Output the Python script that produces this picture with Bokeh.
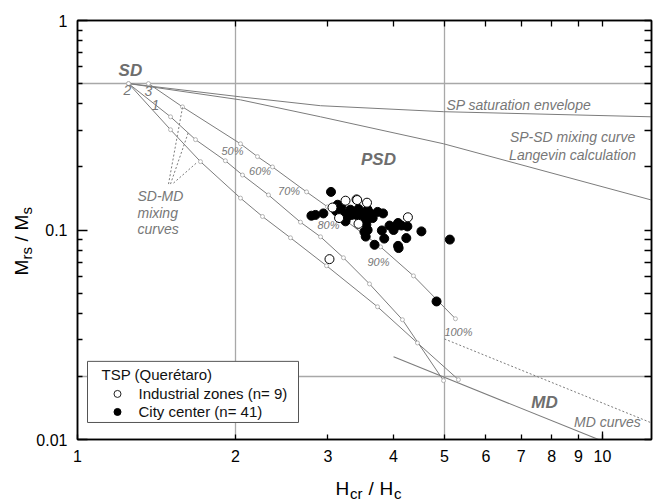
from math import log10, pi

from bokeh.core.properties import value
from bokeh.embed import file_html
from bokeh.layouts import column, row
from bokeh.models import (BoxAnnotation, CustomJSTickFormatter, FixedTicker,
                          Label, LogAxis, Range1d)
from bokeh.plotting import figure
from bokeh.resources import INLINE

# ---------------------------------------------------------------------------
# Day plot of TSP samples (Querétaro): Mrs/Ms versus Hcr/Hc
# ---------------------------------------------------------------------------

# City center samples (n = 41)
city_hcr_hc = [3.04, 2.79, 2.84, 2.94, 3.13, 3.11, 3.22, 3.24, 3.31, 3.33,
               3.40, 3.50, 3.57, 3.61, 3.57, 3.55, 3.57, 3.54, 3.68, 3.82,
               3.80, 3.84, 3.93, 4.03, 4.08, 4.08, 4.09, 4.25, 4.23, 4.52,
               5.12, 4.83, 3.43, 3.46, 3.27, 3.18, 3.52, 4.00, 3.65, 3.73, 4.14]
city_mrs_ms = [0.152, 0.117, 0.118, 0.120, 0.132, 0.123, 0.120, 0.110, 0.125, 0.118,
               0.118, 0.120, 0.125, 0.120, 0.113, 0.106, 0.100, 0.093, 0.085, 0.120,
               0.0995, 0.091, 0.105, 0.104, 0.108, 0.084, 0.082, 0.104, 0.0915, 0.0985,
               0.090, 0.0456, 0.126, 0.113, 0.116, 0.129, 0.098, 0.100, 0.114, 0.122, 0.105]

# Industrial zone samples (n = 9)
ind_hcr_hc = [3.06, 3.24, 3.40, 3.56, 3.15, 3.43, 4.26, 3.02, 3.41]
ind_mrs_ms = [0.128, 0.138, 0.140, 0.135, 0.114, 0.107, 0.115, 0.0726, 0.139]

# SD-MD mixing curves 1, 2 and 3 (Dunlop, 2002)
mix1_x = [1.251, 1.504, 1.678, 1.913, 2.062, 2.311, 2.659, 2.904, 3.211, 3.599, 4.159, 4.980]
mix1_y = [0.500, 0.347, 0.270, 0.214, 0.183, 0.147, 0.109, 0.0928, 0.0737, 0.0553, 0.0373, 0.0191]
mix2_x = [1.251, 1.504, 1.715, 2.044, 2.251, 2.545, 2.981, 3.728, 4.442, 5.317]
mix2_y = [0.500, 0.301, 0.212, 0.142, 0.116, 0.0918, 0.0675, 0.0430, 0.0289, 0.0193]
mix3_x = [1.365, 1.585, 2.044, 2.202, 2.352, 2.731, 2.994, 3.778, 4.365, 5.248]
mix3_y = [0.500, 0.387, 0.258, 0.224, 0.200, 0.152, 0.129, 0.0831, 0.0604, 0.0377]

# MD fraction labels along curve 3
mix_pct_text = ["50%", "60%", "70%", "80%", "90%", "100%"]
mix_pct_x = [1.973, 2.227, 2.529, 3.007, 3.744, 5.317]
mix_pct_y = [0.2388, 0.1917, 0.1530, 0.1059, 0.0705, 0.0325]

# SP saturation envelope and SP-SD (Langevin) mixing curve
sp_env_x = [1.251, 2.044, 2.904, 4.980, 12.4]
sp_env_y = [0.500, 0.432, 0.392, 0.367, 0.347]
sp_sd_x = [1.251, 2.044, 2.904, 4.980, 12.4]
sp_sd_y = [0.500, 0.418, 0.347, 0.258, 0.139]

# MD curves
md_x = [4.0, 9.83]
md_y = [0.0248, 0.010]
md_dot_x = [5.0, 12.4]
md_dot_y = [0.0302, 0.0120]

# Domain-state boundaries
bound_hcr_hc = [2, 5]
bound_mrs_ms = [0.02, 0.5]

# Axis ticks
x_ticks = [1, 2, 3, 4, 5, 6, 7, 8, 9, 10]
y_ticks = [0.01, 0.1, 1]
y_minor = [0.02, 0.03, 0.04, 0.05, 0.06, 0.07, 0.08, 0.09,
           0.2, 0.3, 0.4, 0.5, 0.6, 0.7, 0.8, 0.9]

X_LO, X_HI, Y_LO, Y_HI = 1, 12.4, 0.01, 1

FONT = "Liberation Sans"
GRID = "#a8a8a8"
CURVE = "#7c7c7c"
NOTE = "#777777"

# page geometry (pixels): strip for the y title, main plot, strip for the x title
PAGE_W, PAGE_H = 653, 503
YT_W = 33
XT_H = 31
FL, FR, FT, FB = 77, 651, 20.7, 439
TOP_BORDER = 20


def sx(px):
    """page x pixel -> Hcr/Hc"""
    return 10 ** (log10(X_LO) + (px - FL) / (FR - FL) * (log10(X_HI) - log10(X_LO)))


def sy(py):
    """page y pixel -> Mrs/Ms"""
    return 10 ** (log10(Y_HI) - (py - FT) / (FB - FT) * (log10(Y_HI) - log10(Y_LO)))


p = figure(width=PAGE_W - YT_W, height=PAGE_H - XT_H,
           x_axis_type="log", y_axis_type="log",
           x_range=Range1d(X_LO, X_HI), y_range=Range1d(Y_LO, Y_HI),
           output_backend="svg", toolbar_location=None,
           min_border_left=FL - YT_W, min_border_right=PAGE_W - FR,
           min_border_top=TOP_BORDER, min_border_bottom=PAGE_H - XT_H - FB,
           outline_line_color="black", outline_line_width=1.5,
           background_fill_color="white", border_fill_color="white")

label_fmt = CustomJSTickFormatter(code="return String(tick);")


def style_axis(ax, tick_in, minor_in):
    ax.axis_line_color = "black"
    ax.axis_line_width = 1.5
    ax.major_tick_in = tick_in
    ax.major_tick_out = 0
    ax.minor_tick_in = minor_in
    ax.minor_tick_out = 0
    ax.major_tick_line_color = "black"
    ax.minor_tick_line_color = "black"
    ax.major_tick_line_width = 1.3
    ax.minor_tick_line_width = 1.3
    ax.major_label_text_font = FONT
    ax.major_label_text_font_size = "16px"
    ax.major_label_text_color = "black"
    ax.major_label_standoff = 10


style_axis(p.xaxis[0], 5, 8)
p.xaxis.ticker = FixedTicker(ticks=x_ticks, minor_ticks=[10])
p.xaxis.formatter = label_fmt

style_axis(p.yaxis[0], 10, 5)
p.yaxis.ticker = FixedTicker(ticks=y_ticks, minor_ticks=y_minor)
p.yaxis.formatter = label_fmt

# mirrored tick marks on the top and right edges (no labels)
top_axis = LogAxis(ticker=FixedTicker(ticks=[], minor_ticks=x_ticks[1:]))
style_axis(top_axis, 0, 6)
top_axis.major_label_standoff = 0
p.add_layout(top_axis, "above")

right_axis = LogAxis(ticker=FixedTicker(ticks=[], minor_ticks=y_ticks + y_minor))
style_axis(right_axis, 0, 7)
right_axis.major_label_standoff = 0
p.add_layout(right_axis, "right")

# domain boundaries as grid lines
p.xgrid.ticker = FixedTicker(ticks=bound_hcr_hc)
p.ygrid.ticker = FixedTicker(ticks=bound_mrs_ms)
for g in (p.xgrid[0], p.ygrid[0]):
    g.grid_line_color = GRID
    g.grid_line_width = 1.3
    g.minor_grid_line_color = None

# SP envelope / Langevin mixing curve
p.line(sp_env_x, sp_env_y, line_color=CURVE, line_width=1)
p.line(sp_sd_x, sp_sd_y, line_color=CURVE, line_width=1)

# MD curves
p.line(md_x, md_y, line_color=CURVE, line_width=1.1)
p.line(md_dot_x, md_dot_y, line_color=CURVE, line_width=1, line_dash="2 2")

# SD-MD mixing curves with their node markers
for mx, my in ((mix1_x, mix1_y), (mix2_x, mix2_y), (mix3_x, mix3_y)):
    p.line(mx, my, line_color=CURVE, line_width=1)
    p.scatter(mx, my, marker="circle", size=4, fill_color="white",
              line_color="#a4a4a4", line_width=0.8)

# leader lines from the "SD-MD mixing curves" note
lead_x0 = [sx(168), sx(170), sx(173)]
lead_y0 = [sy(184), sy(184), sy(183)]
lead_x1 = [sx(182), sx(188), sx(197)]
lead_y1 = [sy(107.5), sy(132), sy(162)]
p.segment(lead_x0, lead_y0, lead_x1, lead_y1, line_color=CURVE, line_width=1,
          line_dash="2 2")

# samples
p.scatter(city_hcr_hc, city_mrs_ms, marker="circle", size=9,
          fill_color="black", line_color="black")
p.scatter(ind_hcr_hc, ind_mrs_ms, marker="circle", size=9,
          fill_color="white", line_color="black", line_width=1)


def note(x, y, text, size, style="italic", color=NOTE, align="left",
         baseline="middle", angle=0.0):
    p.add_layout(Label(x=x, y=y, text=text, text_font=FONT,
                       text_font_size=f"{size}px", text_font_style=style,
                       text_color=color, text_align=align,
                       text_baseline=baseline, angle=angle))


# domain names
note(1.261, 0.5753, "SD", 17, "bold italic", "#6e6e6e", "center")
note(3.744, 0.2163, "PSD", 17, "bold italic", "#6e6e6e", "center")
note(7.755, 0.01497, "MD", 17, "bold italic", "#6e6e6e", "center")

# curve annotations
note(5.045, 0.3937, "SP saturation envelope", 14)
note(8.77, 0.2770, "SP-SD mixing curve", 14, align="center")
note(8.77, 0.2273, "Langevin calculation", 14, align="center")
note(10.22, 0.01208, "MD curves", 14, align="center")
note(1.301, 0.1448, "SD-MD", 14)
note(1.301, 0.1202, "mixing", 14)
note(1.301, 0.1013, "curves", 14)
note(1.245, 0.4670, "2", 14, align="center")
note(1.365, 0.4619, "3", 14, align="center")
note(1.408, 0.3959, "1", 14, align="center")
for t, x, y in zip(mix_pct_text, mix_pct_x, mix_pct_y):
    note(x, y, t, 11, align="center")

# legend
p.add_layout(BoxAnnotation(left=sx(87), right=sx(298), top=sy(361), bottom=sy(422),
                           fill_color="white", fill_alpha=1.0,
                           line_color="#555555", line_width=1, line_alpha=1.0))
note(sx(101), sy(374.5), "TSP (Querétaro)", 15, "normal", "#111111")
note(sx(138), sy(393.5), "Industrial zones (n= 9)", 15, "normal", "#111111")
note(sx(138), sy(411.5), "City center (n= 41)", 15, "normal", "#111111")
leg_open = p.scatter([sx(117)], [sy(393.5)], marker="circle", size=7,
                     fill_color="white", line_color="#222222", line_width=1)
leg_fill = p.scatter([sx(117)], [sy(411.5)], marker="circle", size=7,
                     fill_color="black", line_color="black")
leg_open.level = "overlay"
leg_fill.level = "overlay"


def title_strip(w, h, border_left, border_right, border_top, border_bottom,
                x_range, y_range):
    """blank strip for an axis title; its data coordinates are page pixels"""
    f = figure(width=w, height=h, x_range=x_range, y_range=y_range,
               x_axis_location=None, y_axis_location=None,
               output_backend="svg", toolbar_location=None,
               min_border_left=border_left, min_border_right=border_right,
               min_border_top=border_top, min_border_bottom=border_bottom,
               outline_line_color=None,
               background_fill_color="white", border_fill_color="white")
    f.grid.visible = False
    return f


# x-axis title: H_cr / H_c   (frame spans the same page columns as the plot frame;
# y measured upward from the page bottom; anchors are text centre lines)
xt = title_strip(PAGE_W - YT_W, XT_H, FL - YT_W, PAGE_W - FR, 0, 0,
                 Range1d(FL, FR), Range1d(0, XT_H))
xt.text(x=[335, 368, 379], y=[PAGE_H - 487.5] * 3, text=["H", "/", "H"],
        text_font_size="19px", text_baseline="middle", text_color="black",
        text_font=value(FONT))
xt.text(x=[349.5, 393.5], y=[PAGE_H - 493] * 2, text=["cr", "c"],
        text_font_size="15px", text_baseline="middle", text_color="black",
        text_font=value(FONT))

# y-axis title: M_rs / M_s, reading bottom to top
# (frame starts at the plot's top border; y measured upward from the page bottom)
yt = title_strip(YT_W, PAGE_H, 0, 0, TOP_BORDER, 0,
                 Range1d(0, YT_W), Range1d(0, PAGE_H - TOP_BORDER))
yt.text(x=[20.5, 20.5, 20.5], y=[PAGE_H - 275, PAGE_H - 241, PAGE_H - 230],
        text=["M", "/", "M"], angle=pi / 2, text_font_size="19px",
        text_baseline="middle", text_color="black", text_font=value(FONT))
yt.text(x=[25.5, 25.5], y=[PAGE_H - 259, PAGE_H - 214], text=["rs", "s"],
        angle=pi / 2, text_font_size="15px", text_baseline="middle",
        text_color="black", text_font=value(FONT))

layout = row(yt, column(p, xt, spacing=0), spacing=0)

open("out.html", "w").write(file_html(layout, INLINE))
